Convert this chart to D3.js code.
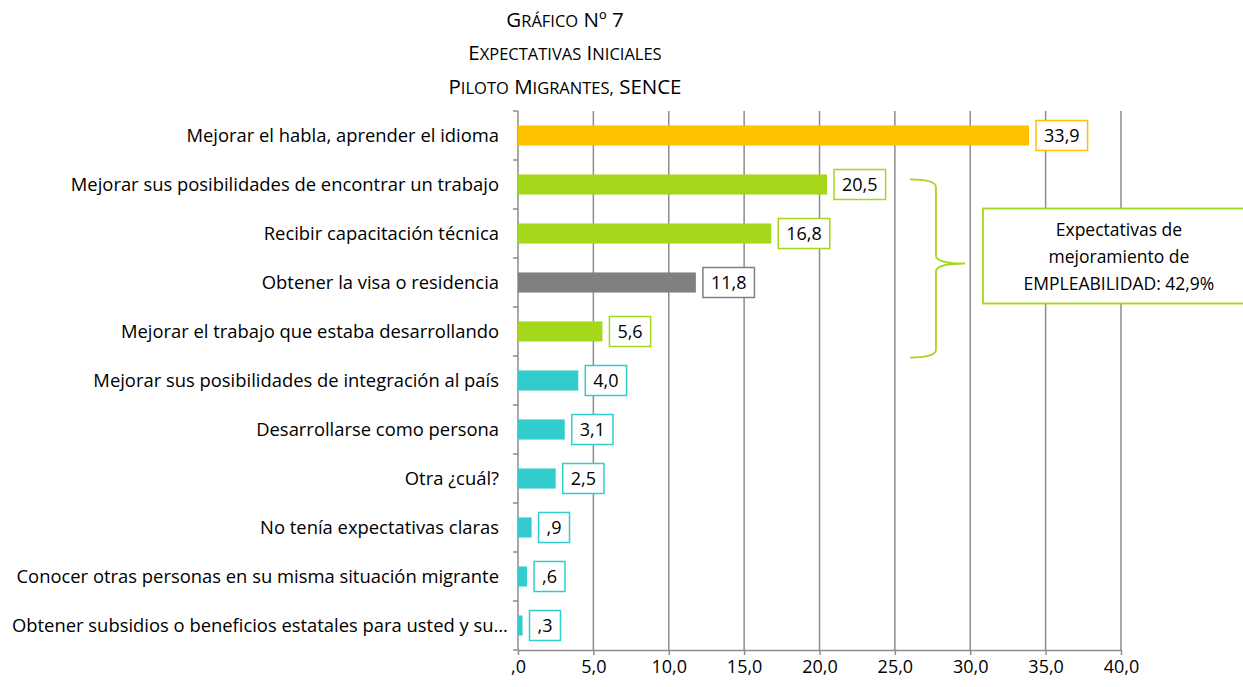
<!DOCTYPE html>
<html>
<head>
<meta charset="utf-8">
<script src="https://cdn.jsdelivr.net/npm/d3@7"></script>
<style>
  body { margin: 0; background: #fff; }
  svg { font-family: "Open Sans", "Noto Sans", sans-serif; }
</style>
</head>
<body>
<svg id="chart" width="1243" height="687"></svg>
<script>
const categories = [
  "Mejorar el habla, aprender el idioma",
  "Mejorar sus posibilidades de encontrar un trabajo",
  "Recibir capacitación técnica",
  "Obtener la visa o residencia",
  "Mejorar el trabajo que estaba desarrollando",
  "Mejorar sus posibilidades de integración al país",
  "Desarrollarse como persona",
  "Otra ¿cuál?",
  "No tenía expectativas claras",
  "Conocer otras personas en su misma situación migrante",
  "Obtener subsidios o beneficios estatales para usted y su…",
];
const values = [33.9, 20.5, 16.8, 11.8, 5.6, 4.0, 3.1, 2.5, 0.9, 0.6, 0.3];
const groups = ["idioma", "empleo", "empleo", "visa", "empleo", "otro", "otro", "otro", "otro", "otro", "otro"];
const xTicks = [0, 5, 10, 15, 20, 25, 30, 35, 40];
const titleLines = ["Gráfico Nº 7", "Expectativas Iniciales", "Piloto Migrantes, SENCE"];
const annotationLines = ["Expectativas de", "mejoramiento de", "EMPLEABILIDAD: 42,9%"];

const groupColor = {
  idioma: "#FFC000",
  empleo: "#A5D71B",
  visa: "#808080",
  otro: "#33CCCC",
};

const fmt = (v) => {
  const s = v.toFixed(1).replace(".", ",");
  return s.startsWith("0") ? s.slice(1) : s;
};

const svg = d3.select("#chart");
const margin = { top: 111, left: 518, right: 122, bottom: 37 };
const width = 1243 - margin.left - margin.right;
const height = 687 - margin.top - margin.bottom;

const g = svg.append("g").attr("transform", `translate(${margin.left},${margin.top})`);

const x = d3.scaleLinear().domain([0, 40]).range([0, width]);
const y = d3.scaleBand().domain(categories).range([0, height]).paddingInner(0.59).paddingOuter(0.295);

// title, with small caps built by hand (first letter full size, rest smaller)
const bigSize = 20.5;
const smallSize = 16.5;
const titles = svg.append("g")
  .selectAll("text")
  .data(titleLines)
  .join("text")
  .attr("x", 565)
  .attr("y", (d, i) => [27, 60, 94][i])
  .attr("text-anchor", "middle")
  .attr("fill", "#000");

titles.each(function (line) {
  const t = d3.select(this);
  line.split(" ").forEach((word, wi) => {
    const prefix = wi > 0 ? " " : "";
    if (word === word.toUpperCase()) {
      t.append("tspan").attr("font-size", bigSize).text(prefix + word);
      return;
    }
    t.append("tspan").attr("font-size", bigSize).text(prefix + word[0]);
    t.append("tspan").attr("font-size", smallSize).text(word.slice(1).toUpperCase());
  });
});

// gridlines
g.append("g")
  .selectAll("line")
  .data(xTicks.slice(1))
  .join("line")
  .attr("x1", (d) => x(d))
  .attr("x2", (d) => x(d))
  .attr("y1", 0)
  .attr("y2", height)
  .attr("stroke", "#8c8c8c")
  .attr("stroke-width", 1.5);

// bottom axis
const xAxis = g.append("g")
  .attr("transform", `translate(0,${height})`)
  .call(d3.axisBottom(x).tickValues(xTicks).tickFormat(fmt).tickSize(5).tickSizeOuter(0));
xAxis.select(".domain").attr("stroke", "#8c8c8c").attr("stroke-width", 1.5);
xAxis.selectAll(".tick line").attr("stroke", "#8c8c8c").attr("stroke-width", 1.5);
xAxis.selectAll(".tick text")
  .attr("font-size", 18)
  .attr("font-family", "Open Sans, sans-serif")
  .attr("fill", "#000")
  .attr("dy", "0.85em");

// left axis line + category boundary ticks
g.append("line")
  .attr("x1", 0).attr("x2", 0).attr("y1", 0).attr("y2", height)
  .attr("stroke", "#8c8c8c").attr("stroke-width", 1.5);
g.append("g")
  .selectAll("line")
  .data(d3.range(categories.length + 1))
  .join("line")
  .attr("x1", -5).attr("x2", 0)
  .attr("y1", (i) => i * (height / categories.length))
  .attr("y2", (i) => i * (height / categories.length))
  .attr("stroke", "#8c8c8c").attr("stroke-width", 1.5);

// category labels (the truncated one is left-aligned, as the original does)
g.append("g")
  .selectAll("text")
  .data(categories)
  .join("text")
  .attr("x", (d) => (d.endsWith("…") ? -506 : -19))
  .attr("y", (d) => y(d) + y.bandwidth() / 2)
  .attr("dy", "0.35em")
  .attr("text-anchor", (d) => (d.endsWith("…") ? "start" : "end"))
  .attr("font-size", 18.4)
  .attr("fill", "#000")
  .text((d) => d);

// bars
g.append("g")
  .selectAll("rect")
  .data(values)
  .join("rect")
  .attr("x", 0)
  .attr("y", (d, i) => y(categories[i]))
  .attr("width", (d) => x(d))
  .attr("height", y.bandwidth())
  .attr("fill", (d, i) => groupColor[groups[i]]);

// value labels
const labels = g.append("g")
  .selectAll("g")
  .data(values)
  .join("g")
  .attr("transform", (d, i) => `translate(${x(d) + 7},${y(categories[i]) + y.bandwidth() / 2})`);

labels.append("text")
  .attr("x", 8)
  .attr("dy", "0.35em")
  .attr("font-size", 18)
  .attr("fill", "#000")
  .text((d) => fmt(d));

labels.each(function (d, i) {
  const node = d3.select(this);
  const w = node.select("text").node().getComputedTextLength();
  node.insert("rect", "text")
    .attr("x", 0)
    .attr("y", -15)
    .attr("width", w + 16)
    .attr("height", 30)
    .attr("fill", "#fff")
    .attr("stroke", groupColor[groups[i]])
    .attr("stroke-width", 1.5);
});

// bracket grouping the employability rows
const yTop = y(categories[1]) + 5;
const yBot = y(categories[4]) + y.bandwidth() + 16;
const yMid = (yTop + yBot) / 2 - 5;
const bx0 = x(26);
const bx1 = bx0 + 26;
const tip = bx0 + 55;
const bracket = d3.path();
bracket.moveTo(bx0, yTop);
bracket.quadraticCurveTo(bx1, yTop, bx1, yTop + 8);
bracket.lineTo(bx1, yMid - 8);
bracket.quadraticCurveTo(bx1, yMid, tip, yMid);
bracket.quadraticCurveTo(bx1, yMid, bx1, yMid + 8);
bracket.lineTo(bx1, yBot - 8);
bracket.quadraticCurveTo(bx1, yBot, bx0, yBot);
g.append("path")
  .attr("d", bracket.toString())
  .attr("fill", "none")
  .attr("stroke", groupColor.empleo)
  .attr("stroke-width", 1.8);

// annotation box
const boxX = tip + 18;
const boxY = yMid - 55;
g.append("rect")
  .attr("x", boxX)
  .attr("y", boxY)
  .attr("width", 300)
  .attr("height", 95)
  .attr("fill", "#fff")
  .attr("stroke", groupColor.empleo)
  .attr("stroke-width", 1.8);
g.append("g")
  .selectAll("text")
  .data(annotationLines)
  .join("text")
  .attr("x", boxX + 136)
  .attr("y", (d, i) => boxY + 27 + i * 27)
  .attr("text-anchor", "middle")
  .attr("font-size", 17.5)
  .attr("fill", "#000")
  .text((d) => d);
</script>
</body>
</html>
